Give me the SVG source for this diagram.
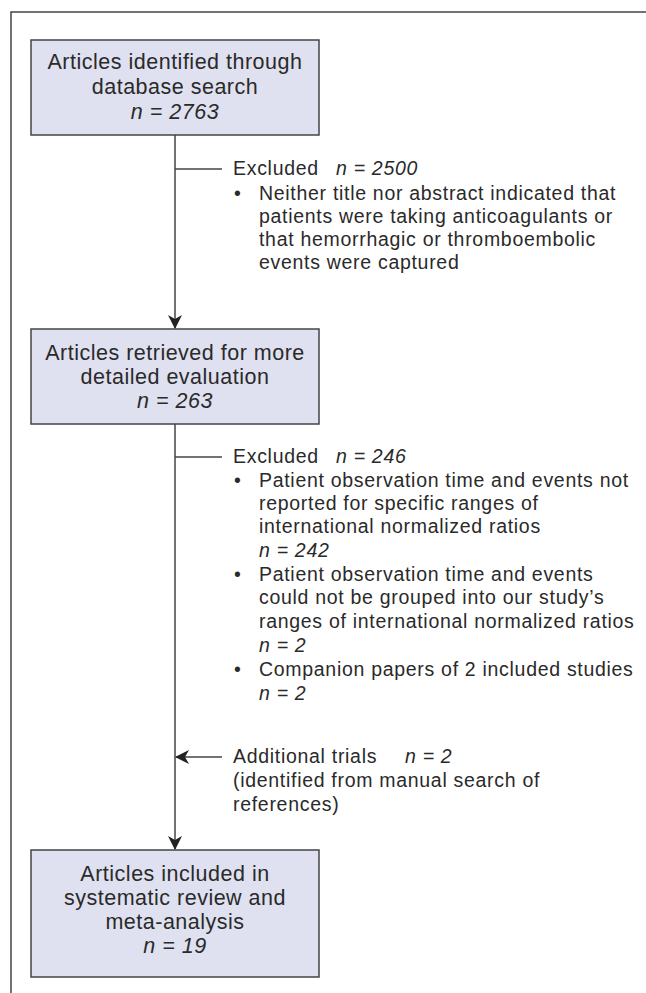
<svg xmlns="http://www.w3.org/2000/svg" width="646" height="993" viewBox="0 0 646 993">
<style>
.box{fill:#dfe1f0;stroke:#444;stroke-width:1.5}
.t{font-family:"Liberation Sans",Arial,sans-serif;font-size:19.5px;letter-spacing:0.7px;fill:#2a2a2a}
.b{font-family:"Liberation Sans",Arial,sans-serif;font-size:21.5px;letter-spacing:0.5px;fill:#2a2a2a;text-anchor:middle}
.i{font-style:italic}
.ln{stroke:#444;stroke-width:1.5;fill:none}
</style>
<defs>
<marker id="ah" viewBox="0 0 14 14" refX="13" refY="7" markerWidth="14" markerHeight="14" markerUnits="userSpaceOnUse" orient="auto">
<path d="M0,0 L14,7 L0,14 L4,7 Z" fill="#222"/>
</marker>
</defs>
<rect width="646" height="993" fill="#fff"/>
<path d="M11,993 V12 H646" class="ln"/>
<g id="connectors">
<line x1="175" y1="135" x2="175" y2="328" class="ln" marker-end="url(#ah)"/>
<line x1="175" y1="169" x2="222" y2="169" class="ln"/>
<line x1="175" y1="424" x2="175" y2="849" class="ln" marker-end="url(#ah)"/>
<line x1="175" y1="457" x2="222" y2="457" class="ln"/>
<line x1="222" y1="757" x2="176" y2="757" class="ln" marker-end="url(#ah)"/>
</g>
<g id="box1">
<rect x="31" y="40" width="288" height="95" class="box"/>
<text class="b" x="175" y="69">Articles identified through</text>
<text class="b" x="175" y="94">database search</text>
<text class="b i" x="175" y="119">n = 2763</text>
</g>
<g id="excl1">
<text class="t" x="233" y="175">Excluded <tspan class="i" x="336">n = 2500</tspan></text>
<text class="t" x="234" y="200">•</text>
<text class="t" x="259" y="200">Neither title nor abstract indicated that</text>
<text class="t" x="259" y="223">patients were taking anticoagulants or</text>
<text class="t" x="259" y="246">that hemorrhagic or thromboembolic</text>
<text class="t" x="259" y="269">events were captured</text>
</g>
<g id="box2">
<rect x="31" y="329" width="288" height="95" class="box"/>
<text class="b" x="175" y="360">Articles retrieved for more</text>
<text class="b" x="175" y="384">detailed evaluation</text>
<text class="b i" x="175" y="408">n = 263</text>
</g>
<g id="excl2">
<text class="t" x="233" y="463">Excluded <tspan class="i" x="336">n = 246</tspan></text>
<text class="t" x="234" y="487">•</text>
<text class="t" x="259" y="487">Patient observation time and events not</text>
<text class="t" x="259" y="510">reported for specific ranges of</text>
<text class="t" x="259" y="533">international normalized ratios</text>
<text class="t i" x="259" y="557">n = 242</text>
<text class="t" x="234" y="581">•</text>
<text class="t" x="259" y="581">Patient observation time and events</text>
<text class="t" x="259" y="604">could not be grouped into our study’s</text>
<text class="t" x="259" y="628">ranges of international normalized ratios</text>
<text class="t i" x="259" y="652">n = 2</text>
<text class="t" x="234" y="676">•</text>
<text class="t" x="259" y="676">Companion papers of 2 included studies</text>
<text class="t i" x="259" y="700">n = 2</text>
</g>
<g id="additional">
<text class="t" x="233" y="763">Additional trials <tspan class="i" x="405">n = 2</tspan></text>
<text class="t" x="233" y="787">(identified from manual search of</text>
<text class="t" x="233" y="811">references)</text>
</g>
<g id="box3">
<rect x="31" y="850" width="288" height="127" class="box"/>
<text class="b" x="175" y="881">Articles included in</text>
<text class="b" x="175" y="905">systematic review and</text>
<text class="b" x="175" y="929">meta-analysis</text>
<text class="b i" x="175" y="953">n = 19</text>
</g>
</svg>
